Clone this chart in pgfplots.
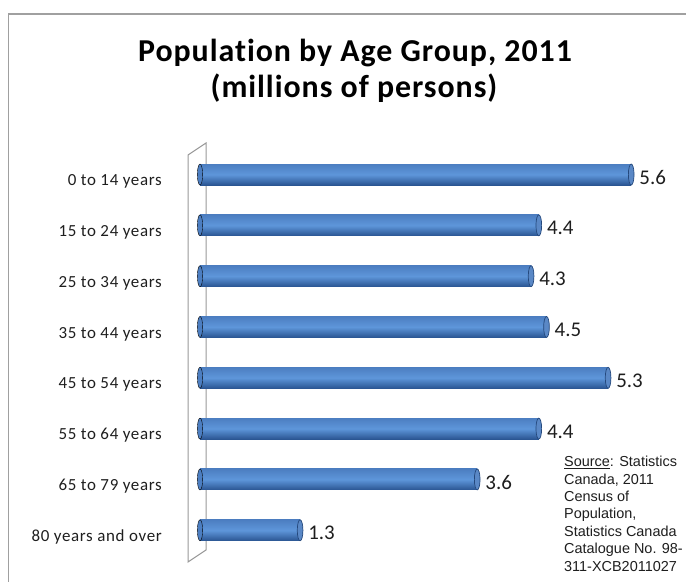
\documentclass[border=0pt]{standalone}
\usepackage{fontspec}
\setmainfont{Carlito}
\newfontfamily\srcfont{Liberation Sans}
\newfontfamily\titlefont[LetterSpace=3,Ligatures=NoCommon]{Carlito}
\newfontfamily\catfont[LetterSpace=4]{Carlito}
\usepackage{pgfplots}
\pgfplotsset{compat=1.18}
\definecolor{barTop}{HTML}{4C7EC1}
\definecolor{barMid}{HTML}{5E96DA}
\definecolor{barBot}{HTML}{2A5592}
\definecolor{frameGray}{HTML}{A0A0A0}
\definecolor{txt}{HTML}{1E1E1E}

\pgfplotstableread{
idx value zero
0 5.6 0
1 4.4 0
2 4.3 0
3 4.5 0
4 5.3 0
5 4.4 0
6 3.6 0
7 1.3 0
}\datatable

\begin{document}
\begin{tikzpicture}[x=1bp,y=1bp]
\useasboundingbox (0,0) rectangle (686,582);
\draw[frameGray, line width=1.5bp] (8.5,0) -- (8.5,568) -- (686,568);
\draw[fill=white, draw=black!40, line width=1bp] (188,20) -- (188,427) -- (206,439) -- (206,32) -- cycle;
\node[font=\titlefont\bfseries\fontsize{32}{36}\selectfont, anchor=base, text=black, inner sep=0pt] at (355,520.3) {Population by Age Group, 2011};
\node[font=\titlefont\bfseries\fontsize{32}{36}\selectfont, anchor=base, text=black, inner sep=0pt] at (354,484) {(millions of persons)};
\begin{axis}[
  at={(200bp,26.3bp)}, anchor=south west,
  scale only axis, width=462bp, height=406.6bp,
  xmin=0, xmax=6, ymin=-0.5, ymax=7.5,
  y dir=reverse,
  hide x axis,
  axis line style={draw=none},
  tick style={draw=none},
  ytick={0,...,7},
  yticklabels={0 to 14 years,15 to 24 years,25 to 34 years,35 to 44 years,45 to 54 years,55 to 64 years,65 to 79 years,80 years and over},
  yticklabel style={font=\catfont\fontsize{17}{20}\selectfont, text=txt, anchor=east, inner sep=0pt, xshift=-38bp, yshift=-7bp},
  clip=false,
]
\addplot[only marks, mark=*, mark size=10.5bp, mark options={xscale=0.25, draw=none, fill=barTop}] table[x=zero,y=idx]{\datatable};
\pgfplotsinvokeforeach{0,...,7}{
\addplot[xbar, bar width=21bp, bar shift=0pt, draw=none, top color=barTop, bottom color=barBot, middle color=barMid,
  restrict y to domain=#1:#1,
  nodes near coords, point meta=explicit symbolic,
  nodes near coords style={font=\fontsize{21}{24}\selectfont, text=txt, anchor=west, xshift=8bp, yshift=-3bp, inner sep=0pt}]
  table[x=value,y=idx,meta=value]{\datatable};
}
\addplot[only marks, mark=*, mark size=10.5bp, mark options={xscale=0.27, draw=barBot!85!black, fill=barTop!92!white, line width=0.7bp}] table[x=value,y=idx]{\datatable};
\end{axis}
\node[anchor=north west, align=left, inner sep=0pt, text=txt, font=\srcfont\fontsize{14.5}{17.5}\selectfont] at (564,126) {\underline{Source}: Statistics\\Canada, 2011\\Census of\\Population,\\Statistics Canada\\Catalogue No. 98-\\311-XCB2011027};
\end{tikzpicture}
\end{document}
